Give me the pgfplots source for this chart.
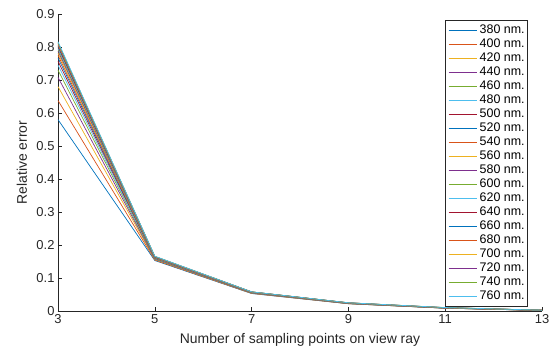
\documentclass[border=0pt]{standalone}
\usepackage{pgfplots}
\usepackage{pgfplotstable}
\usepackage{fontspec}
\setmainfont{Liberation Sans}
\pgfplotsset{compat=1.18}
\definecolor{c1}{rgb}{0,0.447,0.741}
\definecolor{c2}{rgb}{0.85,0.325,0.098}
\definecolor{c3}{rgb}{0.929,0.694,0.125}
\definecolor{c4}{rgb}{0.494,0.184,0.556}
\definecolor{c5}{rgb}{0.466,0.674,0.188}
\definecolor{c6}{rgb}{0.301,0.745,0.933}
\definecolor{c7}{rgb}{0.635,0.078,0.184}
\definecolor{axgray}{rgb}{0.15,0.15,0.15}
\pgfplotstableread{
x  a380  a400  a420  a440  a460  a480  a500  a520  a540  a560  a580  a600  a620  a640  a660  a680  a700  a720  a740  a760
3  0.580 0.638 0.680 0.708 0.730 0.745 0.757 0.767 0.775 0.782 0.788 0.793 0.797 0.801 0.804 0.807 0.810 0.812 0.814 0.816
5  0.153 0.1545 0.156 0.157 0.158 0.159 0.160 0.1605 0.161 0.1615 0.162 0.1625 0.163 0.1635 0.164 0.1645 0.165 0.1652 0.1656 0.166
7  0.0530 0.0535 0.0540 0.0545 0.0550 0.0553 0.0556 0.0559 0.0562 0.0565 0.0568 0.0570 0.0572 0.0574 0.0576 0.0577 0.0578 0.0579 0.0580 0.0581
9  0.0220 0.0222 0.0224 0.0226 0.0228 0.0230 0.0232 0.0234 0.0236 0.0238 0.0240 0.0242 0.0243 0.0244 0.0245 0.0246 0.0247 0.0248 0.0249 0.0250
11 0.0085 0.0086 0.0087 0.0088 0.0089 0.0090 0.0091 0.0092 0.0093 0.0094 0.0095 0.0096 0.0097 0.0098 0.0099 0.0100 0.0101 0.0102 0.0103 0.0105
13 0.0015 0.0016 0.0017 0.0017 0.0018 0.0018 0.0019 0.0019 0.0020 0.0020 0.0021 0.0021 0.0022 0.0022 0.0023 0.0023 0.0024 0.0024 0.0025 0.0025
}\data
\begin{document}
\begin{tikzpicture}
\useasboundingbox (-58bp,-41bp) rectangle (492bp,311bp);
\begin{axis}[
  at={(0,0)}, anchor=south west,
  scale only axis,
  width=484bp, height=297bp,
  xmin=3, xmax=13, ymin=0, ymax=0.9,
  axis lines=left,
  axis line style={-, axgray, line width=0.5pt},
  tick align=inside,
  major tick length=4bp,
  tick style={axgray, line width=0.5pt},
  xtick={3,5,7,9,11,13},
  ytick={0,0.1,0.2,0.3,0.4,0.5,0.6,0.7,0.8,0.9},
  yticklabel style={/pgf/number format/fixed, /pgf/number format/precision=1},
  /pgf/number format/assume math mode=true,
  ticklabel style={font=\fontsize{13}{15}\selectfont, text=axgray},
  xlabel={Number of sampling points on view ray},
  ylabel={Relative error},
  label style={font=\fontsize{14}{16}\selectfont, text=axgray},
  xlabel style={at={(axis description cs:0.5,-0.0976)}, anchor=center},
  ylabel style={at={(axis description cs:-0.0744,0.5)}, anchor=center},
  legend style={at={(rel axis cs:0.971,0.980)}, anchor=north east,
    font=\fontsize{12.5}{13}\selectfont, draw=axgray, line width=0.5pt,
    inner xsep=2.5bp, inner ysep=3bp,
    nodes={inner sep=0.5bp, text height=9.5bp, text depth=3.5bp},
    column sep=2bp},
  legend cell align=left,
  legend image code/.code={\draw[#1, line width=1.2pt] (0bp,0bp) -- (28bp,0bp);},
  every axis plot/.append style={line width=0.7pt},
]
\addplot[c1] table[x=x,y=a380]{\data}; \addlegendentry{380 nm.}
\addplot[c2] table[x=x,y=a400]{\data}; \addlegendentry{400 nm.}
\addplot[c3] table[x=x,y=a420]{\data}; \addlegendentry{420 nm.}
\addplot[c4] table[x=x,y=a440]{\data}; \addlegendentry{440 nm.}
\addplot[c5] table[x=x,y=a460]{\data}; \addlegendentry{460 nm.}
\addplot[c6] table[x=x,y=a480]{\data}; \addlegendentry{480 nm.}
\addplot[c7] table[x=x,y=a500]{\data}; \addlegendentry{500 nm.}
\addplot[c1] table[x=x,y=a520]{\data}; \addlegendentry{520 nm.}
\addplot[c2] table[x=x,y=a540]{\data}; \addlegendentry{540 nm.}
\addplot[c3] table[x=x,y=a560]{\data}; \addlegendentry{560 nm.}
\addplot[c4] table[x=x,y=a580]{\data}; \addlegendentry{580 nm.}
\addplot[c5] table[x=x,y=a600]{\data}; \addlegendentry{600 nm.}
\addplot[c6] table[x=x,y=a620]{\data}; \addlegendentry{620 nm.}
\addplot[c7] table[x=x,y=a640]{\data}; \addlegendentry{640 nm.}
\addplot[c1] table[x=x,y=a660]{\data}; \addlegendentry{660 nm.}
\addplot[c2] table[x=x,y=a680]{\data}; \addlegendentry{680 nm.}
\addplot[c3] table[x=x,y=a700]{\data}; \addlegendentry{700 nm.}
\addplot[c4] table[x=x,y=a720]{\data}; \addlegendentry{720 nm.}
\addplot[c5] table[x=x,y=a740]{\data}; \addlegendentry{740 nm.}
\addplot[c6] table[x=x,y=a760]{\data}; \addlegendentry{760 nm.}
\end{axis}
\end{tikzpicture}
\end{document}
